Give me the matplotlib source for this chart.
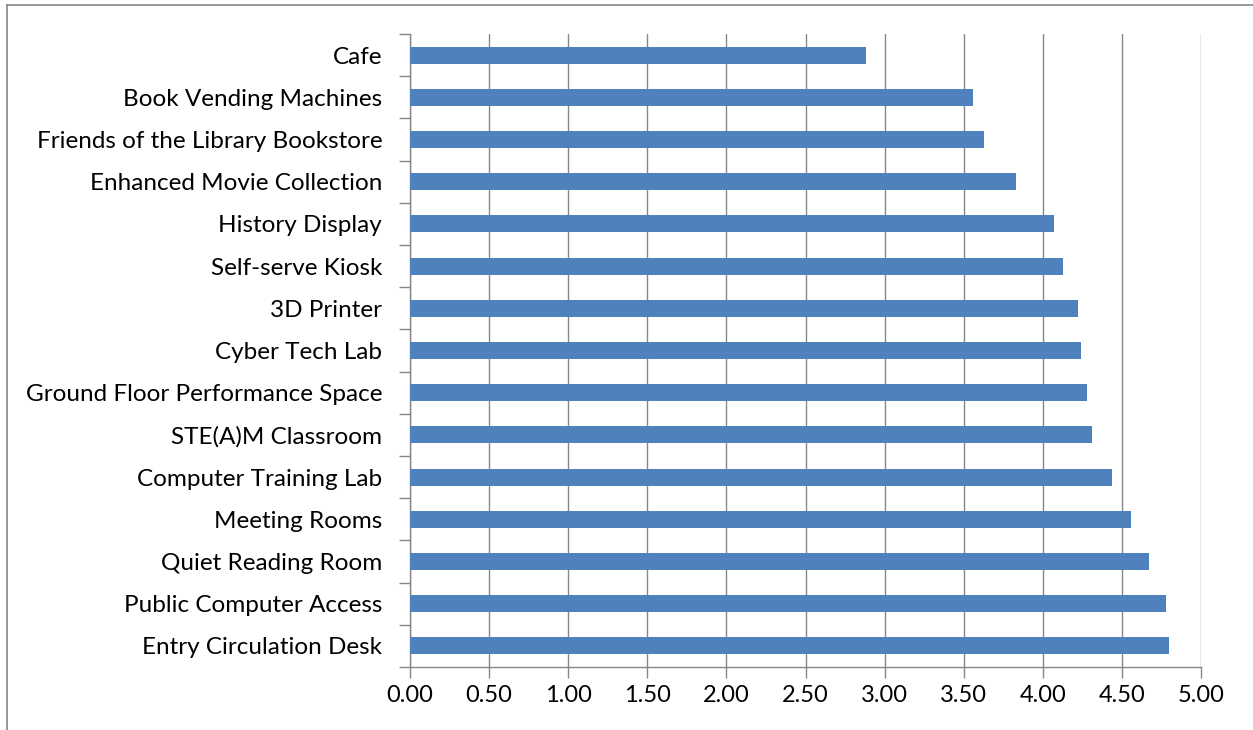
import numpy as np
import matplotlib.pyplot as plt
from matplotlib.lines import Line2D

# Данные (сверху вниз)
features = ["Cafe", "Book Vending Machines", "Friends of the Library Bookstore",
            "Enhanced Movie Collection", "History Display", "Self-serve Kiosk",
            "3D Printer", "Cyber Tech Lab", "Ground Floor Performance Space",
            "STE(A)M Classroom", "Computer Training Lab", "Meeting Rooms",
            "Quiet Reading Room", "Public Computer Access", "Entry Circulation Desk"]
scores = [2.88, 3.56, 3.63, 3.83, 4.07, 4.13, 4.22, 4.24, 4.28,
          4.31, 4.44, 4.56, 4.67, 4.78, 4.80]
xticks = [0.0, 0.5, 1.0, 1.5, 2.0, 2.5, 3.0, 3.5, 4.0, 4.5, 5.0]

plt.rcParams['font.family'] = ['Lato', 'DejaVu Sans']

fig = plt.figure(figsize=(12.53, 7.30), dpi=100)
ax = fig.add_axes([410/1253, 63/730, 791/1253, 633/730])

ypos = np.arange(len(features))
ax.barh(ypos, scores, height=0.4, color='#4F81BD', zorder=3)

ax.set_xlim(0, 5)
ax.set_ylim(len(features) - 0.5, -0.5)

ax.set_xticks(xticks)
ax.set_xticklabels([f"{v:.2f}" for v in xticks])
ax.set_yticks(ypos)
ax.set_yticklabels(features)
ax.set_yticks(np.arange(-0.5, len(features)), minor=True)

ax.tick_params(axis='y', which='major', length=0, pad=20, labelsize=17.5)
ax.tick_params(axis='y', which='minor', length=8, width=1, color='#868686', direction='out')
ax.tick_params(axis='x', which='major', length=8, width=1, color='#868686',
               direction='out', pad=5, labelsize=17)

ax.grid(axis='x', color='#868686', lw=1, zorder=0)
for s in ['top', 'right']:
    ax.spines[s].set_visible(False)
for s in ['left', 'bottom']:
    ax.spines[s].set_color('#868686')
    ax.spines[s].set_linewidth(1)

# Рамка области диаграммы
fig.add_artist(Line2D([7/1253, 7/1253], [0, 1 - 5/730], color='#868686', lw=1.2,
                      transform=fig.transFigure))
fig.add_artist(Line2D([7/1253, 1], [1 - 5/730, 1 - 5/730], color='#868686', lw=1.2,
                      transform=fig.transFigure))

fig.savefig('out.png', dpi=100)
